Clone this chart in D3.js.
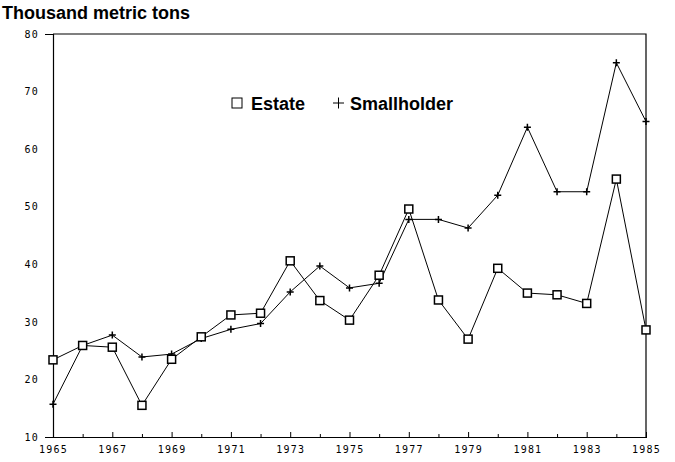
<!DOCTYPE html>
<html>
<head>
<meta charset="utf-8">
<script src="https://cdn.jsdelivr.net/npm/d3@7"></script>
<style>
  body { margin: 0; background: #fff; }
  svg { display: block; }
</style>
</head>
<body>
<svg id="chart"></svg>
<script>
// data
const years = [1965, 1966, 1967, 1968, 1969, 1970, 1971, 1972, 1973, 1974, 1975,
               1976, 1977, 1978, 1979, 1980, 1981, 1982, 1983, 1984, 1985];
const estate = [23.4, 25.9, 25.6, 15.5, 23.5, 27.4, 31.2, 31.5, 40.6, 33.7, 30.3,
                38.1, 49.6, 33.8, 27.0, 39.3, 35.0, 34.7, 33.2, 54.8, 28.6];
const smallholder = [15.7, 25.9, 27.7, 23.9, 24.4, 27.1, 28.7, 29.7, 35.2, 39.7, 35.9,
                     36.7, 47.8, 47.8, 46.3, 52.0, 63.8, 52.6, 52.6, 75.0, 64.8];
const yTicks = [10, 20, 30, 40, 50, 60, 70, 80];
const xLabelYears = [1965, 1967, 1969, 1971, 1973, 1975, 1977, 1979, 1981, 1983, 1985];

const w = 675, h = 462;
const margin = { top: 34, right: 29, bottom: 25, left: 53 };

const svg = d3.select("#chart").attr("width", w).attr("height", h);

const xScale = d3.scaleLinear()
    .domain([1965, 1985])
    .range([margin.left, w - margin.right]);

const yScale = d3.scaleLinear()
    .domain([10, 80])
    .range([h - margin.bottom, margin.top]);

const tickFont = "'DejaVu Sans Mono', monospace";

// frame: top and right edges
svg.append("path")
    .attr("d", `M${margin.left},${margin.top}H${w - margin.right}V${h - margin.bottom}`)
    .attr("fill", "none")
    .attr("stroke", "#000")
    .attr("stroke-width", 1.2);

// x axis
const xAxis = g => g
    .attr("transform", `translate(0,${h - margin.bottom})`)
    .call(d3.axisBottom(xScale).tickValues(years).tickSize(0).tickFormat(""))
    .call(g => g.select(".domain").attr("stroke-width", 1.2))
    .call(g => g.selectAll(".tick line")
        .attr("y1", 1)
        .attr("y2", d => xLabelYears.includes(d) ? -5 : -3))
    .call(g => g.selectAll(".tick")
        .filter(d => xLabelYears.includes(d))
        .append("text")
        .attr("y", 16)
        .attr("fill", "#000")
        .attr("text-anchor", "middle")
        .style("font-family", tickFont)
        .style("font-size", "10px")
        .style("letter-spacing", "1.2px")
        .text(d => d));

svg.append("g").call(xAxis);

// y axis
const yAxis = g => g
    .attr("transform", `translate(${margin.left},0)`)
    .call(d3.axisLeft(yScale).tickValues(yTicks).tickSize(8).tickPadding(6))
    .call(g => g.select(".domain").attr("stroke-width", 1.2))
    .call(g => g.selectAll(".tick line").attr("x2", 1))
    .call(g => g.selectAll(".tick text")
        .attr("fill", "#000")
        .style("font-family", tickFont)
        .style("font-size", "10px")
        .style("letter-spacing", "1.2px"));

svg.append("g").call(yAxis);

// title
svg.append("text")
    .attr("x", 2)
    .attr("y", 19)
    .style("font-family", "'Liberation Sans', Arial, sans-serif")
    .style("font-weight", "bold")
    .style("font-size", "18px")
    .text("Thousand metric tons");

// lines
const line = d3.line()
    .x((d, i) => xScale(years[i]))
    .y(d => yScale(d));

svg.append("path")
    .datum(smallholder)
    .attr("d", line)
    .attr("fill", "none")
    .attr("stroke", "#000")
    .attr("stroke-width", 1);

svg.append("path")
    .datum(estate)
    .attr("d", line)
    .attr("fill", "none")
    .attr("stroke", "#000")
    .attr("stroke-width", 1);

// markers
const pSize = 3.5;
svg.append("g")
    .selectAll("path")
    .data(smallholder)
    .join("path")
    .attr("d", (d, i) => {
        const x = xScale(years[i]), y = yScale(d);
        return `M${x - pSize},${y}H${x + pSize}M${x},${y - pSize}V${y + pSize}`;
    })
    .attr("stroke", "#000")
    .attr("stroke-width", 1.5);

const sq = 8;
svg.append("g")
    .selectAll("rect")
    .data(estate)
    .join("rect")
    .attr("x", (d, i) => xScale(years[i]) - sq / 2)
    .attr("y", d => yScale(d) - sq / 2)
    .attr("width", sq)
    .attr("height", sq)
    .attr("fill", "#fff")
    .attr("stroke", "#000")
    .attr("stroke-width", 1.5);

// legend
const legend = svg.append("g").attr("transform", "translate(232,110)");
legend.append("rect")
    .attr("x", 0).attr("y", -12)
    .attr("width", 10).attr("height", 10)
    .attr("fill", "#fff")
    .attr("stroke", "#000")
    .attr("stroke-width", 1);
legend.append("text")
    .attr("x", 19)
    .style("font-family", "'Liberation Sans', Arial, sans-serif")
    .style("font-weight", "bold")
    .style("font-size", "18px")
    .text("Estate");
legend.append("path")
    .attr("d", "M101,-7H112M106.5,-12.5V-1.5")
    .attr("stroke", "#000")
    .attr("stroke-width", 1);
legend.append("text")
    .attr("x", 118)
    .style("font-family", "'Liberation Sans', Arial, sans-serif")
    .style("font-weight", "bold")
    .style("font-size", "18px")
    .text("Smallholder");
</script>
</body>
</html>
